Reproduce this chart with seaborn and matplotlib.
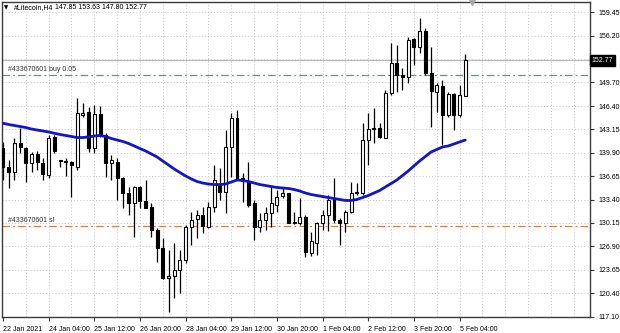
import numpy as np
import pandas as pd
import matplotlib
matplotlib.use("Agg")
import matplotlib.pyplot as plt
import seaborn as sns
from matplotlib.transforms import blended_transform_factory

# ---------------- data ----------------
opens = [140.57, 137.88, 137.27, 141.22, 140.61, 138.44, 139.74, 138.52, 136.81, 142.06,
         138.80, 138.66, 138.62, 137.97, 145.16, 145.62, 140.53, 145.26, 142.38, 138.52,
         138.66, 136.35, 134.27, 132.96, 135.10, 133.24, 132.40, 129.16, 126.62, 122.44,
         122.76, 123.60, 124.99, 129.62, 130.65, 131.25, 129.62, 132.40, 135.42, 134.49,
         140.75, 144.70, 136.44, 135.88, 132.88, 129.62, 130.55, 131.49, 132.64, 133.89,
         134.27, 130.28, 130.09, 130.93, 125.95, 127.31, 130.09, 131.25, 133.57, 130.55,
         130.09, 131.71, 134.27, 134.35, 141.68, 143.27, 143.31, 142.00, 148.18, 152.35,
         150.73, 150.49, 155.69, 154.66, 156.89, 150.96, 148.40, 149.20, 145.16, 148.08,
         145.16, 147.85]
closes = [137.93, 137.27, 141.22, 140.75, 138.44, 139.74, 138.66, 136.91, 141.92, 140.19,
          138.85, 138.70, 138.16, 145.40, 145.40, 140.53, 145.26, 142.38, 138.44, 138.90,
          136.35, 134.27, 132.96, 135.10, 133.24, 132.27, 129.16, 126.62, 122.44, 122.76,
          123.60, 124.99, 129.62, 130.55, 131.25, 129.72, 132.40, 136.12, 134.49, 140.75,
          144.70, 136.35, 135.98, 132.64, 129.62, 130.55, 131.49, 132.88, 133.80, 134.27,
          130.18, 130.09, 130.93, 126.14, 127.60, 130.09, 131.25, 133.34, 130.55, 130.18,
          131.71, 134.27, 134.49, 141.68, 143.17, 143.31, 142.06, 148.18, 152.35, 150.73,
          150.49, 155.60, 154.66, 156.89, 150.96, 148.50, 149.33, 145.16, 148.08, 145.16,
          147.90, 152.77]
highs = [141.40, 138.90, 141.96, 143.35, 140.71, 140.01, 140.19, 139.18, 142.38, 142.38,
         138.90, 139.18, 138.80, 147.53, 146.83, 146.32, 146.55, 146.41, 142.62, 139.60,
         139.14, 136.58, 135.19, 135.28, 135.28, 136.12, 132.88, 129.44, 128.05, 126.38,
         127.35, 126.38, 129.86, 131.71, 131.95, 132.40, 133.10, 138.20, 137.79, 143.07,
         145.40, 145.86, 137.05, 138.66, 133.34, 131.49, 132.40, 135.19, 134.73, 135.00,
         134.35, 131.71, 133.57, 131.25, 128.90, 130.32, 131.95, 134.03, 136.35, 130.79,
         131.95, 135.88, 135.66, 144.01, 145.40, 146.09, 144.01, 148.64, 155.14, 154.90,
         151.66, 156.05, 155.83, 158.61, 157.22, 154.66, 149.65, 150.03, 148.40, 148.18,
         149.33, 153.63]
lows = [136.12, 135.00, 136.12, 139.87, 135.84, 137.23, 137.51, 136.12, 136.40, 139.87,
        137.93, 136.67, 133.80, 137.51, 144.92, 140.06, 139.83, 142.14, 136.58, 136.12,
        133.34, 132.18, 131.25, 128.23, 132.18, 132.18, 128.23, 124.75, 122.30, 117.80,
        119.66, 120.36, 124.53, 127.07, 128.01, 128.70, 129.50, 131.71, 133.34, 131.49,
        136.58, 136.12, 133.10, 132.40, 127.77, 128.93, 129.16, 129.62, 131.71, 133.57,
        130.09, 130.00, 129.86, 125.45, 125.60, 125.69, 129.16, 129.02, 130.09, 127.07,
        128.93, 131.49, 134.03, 134.03, 138.21, 141.22, 141.92, 141.92, 147.94, 148.40,
        148.64, 149.57, 152.12, 153.74, 150.73, 143.53, 145.62, 140.99, 144.92, 143.07,
        144.92, 147.80]
ma_values = [144.01, 143.84, 143.70, 143.56, 143.42, 143.21, 143.07, 142.94, 142.80, 142.62,
             142.45, 142.31, 142.17, 142.03, 142.03, 142.10, 142.24, 142.31, 142.17, 141.89,
             141.68, 141.48, 141.20, 140.85, 140.50, 140.15, 139.74, 139.32, 138.76, 138.21,
             137.65, 137.16, 136.68, 136.26, 135.91, 135.70, 135.56, 135.49, 135.49, 135.56,
             135.84, 136.12, 136.05, 135.91, 135.70, 135.49, 135.35, 135.21, 135.08, 135.01,
             134.94, 134.80, 134.59, 134.31, 134.10, 133.96, 133.82, 133.68, 133.55, 133.41,
             133.27, 133.27, 133.41, 133.68, 133.96, 134.31, 134.66, 135.15, 135.63, 136.12,
             136.74, 137.37, 138.07, 138.76, 139.39, 140.01, 140.36, 140.71, 140.85, 141.13,
             141.41, 141.68]

x_tick_bars = [0, 8, 16, 24, 32, 40, 48, 56, 64, 72, 80]
x_tick_labels = ["22 Jan 2021", "24 Jan 04:00", "25 Jan 12:00", "26 Jan 20:00",
                 "28 Jan 04:00", "29 Jan 12:00", "30 Jan 20:00", "1 Feb 04:00",
                 "2 Feb 12:00", "3 Feb 20:00", "5 Feb 04:00"]
y_tick_values = [117.10, 120.40, 123.65, 126.90, 130.15, 133.40, 136.65, 139.90,
                 143.15, 146.40, 149.70, 152.95, 156.20, 159.45]
y_tick_labels = ["117.10", "120.40", "123.65", "126.90", "130.15", "133.40", "136.65",
                 "139.90", "143.15", "146.40", "149.70", "", "156.20", "159.45"]

symbol_text = "#Litecoin,H4"
ohlc_text = "147.85 153.63 147.80 152.77"
buy_label = "#433670601 buy 0.05"
buy_price = 150.73
sl_label = "#433670601 sl"
sl_price = 129.75
bid_price = 152.77
bid_label = "152.77"

# ---------------- style ----------------
sns.set_theme(style="white")
plt.rcParams["font.family"] = ["Liberation Sans", "DejaVu Sans"]
FS = 5.0

W, H = 620, 333
fig = plt.figure(figsize=(W / 100, H / 100), dpi=100)
fig.patch.set_facecolor("white")
left_px, right_px, top_px, bot_px = 2.3, 590.0, 2.0, 317.3
ax = fig.add_axes([left_px / W, 1 - bot_px / H,
                   (right_px - left_px) / W, (bot_px - top_px) / H])
ax.set_facecolor("white")

n = len(opens)
df = pd.DataFrame({"bar": np.arange(n), "open": opens, "high": highs,
                   "low": lows, "close": closes, "ma": ma_values})

bar_px = 5.707
x_lo = -(3.0 - left_px) / bar_px
x_hi = (right_px - 3.0) / bar_px
ax.set_xlim(x_lo, x_hi)
ax.set_ylim(117.02, 160.88)

# grid
grid_c = "#cdcdcd"
for v in y_tick_values:
    ax.axhline(v, color=grid_c, lw=0.7, ls=(0, (1.2, 2.0)), zorder=0)
for gx in range(4, int(x_hi) + 1, 4):
    ax.axvline(gx, color=grid_c, lw=0.7, ls=(0, (1.2, 2.0)), zorder=0)

# order lines
ax.axhline(bid_price, color="#bcbcbc", lw=0.9, zorder=1)
ax.axhline(buy_price, color="#5a9e68", lw=0.9, ls=(0, (6, 2.5, 1.5, 2.5)), zorder=1)
ax.axhline(sl_price, color="#d9804a", lw=0.9, ls=(0, (6, 2.5, 1.5, 2.5)), zorder=1)
ax.text(0.8, buy_price + 0.3, buy_label, fontsize=FS, color="#303030",
        ha="left", va="bottom", zorder=5)
ax.text(0.8, sl_price + 0.2, sl_label, fontsize=FS, color="#303030",
        ha="left", va="bottom", zorder=5)

# candles
ax.vlines(df["bar"], df["low"], df["high"], color="black", lw=0.9, zorder=2)
bull = df["close"] >= df["open"]
body_bottom = np.minimum(df["open"], df["close"])
body_h = np.maximum(np.abs(df["close"] - df["open"]), 0.08)
ax.bar(df["bar"][bull], body_h[bull], bottom=body_bottom[bull], width=0.52,
       color="white", edgecolor="black", linewidth=0.8, zorder=3)
ax.bar(df["bar"][~bull], body_h[~bull], bottom=body_bottom[~bull], width=0.52,
       color="black", edgecolor="black", linewidth=0.8, zorder=3)

# moving average
sns.lineplot(data=df, x="bar", y="ma", color="#1414c8", lw=2.0, ax=ax,
             zorder=4, legend=False)
ax.set_xlabel("")
ax.set_ylabel("")

# axes / ticks
for s in ax.spines.values():
    s.set_visible(True)
    s.set_color("#3c3c3c")
    s.set_linewidth(1.0)
ax.yaxis.tick_right()
ax.set_yticks(y_tick_values)
ax.set_yticklabels(y_tick_labels)
ax.set_xticks(x_tick_bars)
ax.set_xticklabels(x_tick_labels)
for lab in ax.get_xticklabels():
    lab.set_ha("left")
ax.tick_params(axis="both", which="both", direction="out", length=3, width=0.8,
               color="#3c3c3c", labelsize=FS, labelcolor="black")
ax.tick_params(axis="x", pad=3, bottom=True)
ax.tick_params(axis="y", pad=3, right=True, left=False)

# current price box on the axis
tr = blended_transform_factory(ax.transAxes, ax.transData)
ax.text(1.003, bid_price, bid_label, transform=tr, fontsize=FS, color="white",
        ha="left", va="center", zorder=6, clip_on=False,
        bbox=dict(boxstyle="square,pad=0.25", fc="black", ec="black"))

# chart-shift marker
ax.plot([0.799], [1.0], marker="v", color="#a8a8a8", markersize=4,
        transform=ax.transAxes, clip_on=False, zorder=6)

# header
fig.text(4 / W, 1 - 7.5 / H, "\u25BC", fontsize=4, color="black",
         ha="left", va="center", family=["DejaVu Sans"])
fig.text(14 / W, 1 - 7.5 / H, symbol_text, fontsize=FS, color="black",
         ha="left", va="center")
fig.text(55 / W, 1 - 7.5 / H, ohlc_text, fontsize=FS, color="black",
         ha="left", va="center")

fig.savefig("out.png", dpi=100, facecolor="white")
